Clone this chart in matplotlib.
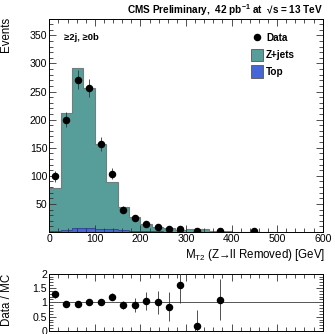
import numpy as np
import matplotlib
matplotlib.use("Agg")
import matplotlib.pyplot as plt
from matplotlib.ticker import MultipleLocator, NullFormatter
from matplotlib.lines import Line2D
from matplotlib.patches import Patch

plt.rcParams['font.family'] = ['Liberation Sans', 'DejaVu Sans']
plt.rcParams['mathtext.fontset'] = 'custom'
plt.rcParams['mathtext.rm'] = 'Liberation Sans'
plt.rcParams['mathtext.bf'] = 'Liberation Sans:bold'

# Binning of M_T2 (GeV)
bin_edges = [0, 25, 50, 75, 100, 125, 150, 175, 200, 225, 250, 275, 300, 350, 400, 500]
bin_centers = [12.5, 37.5, 62.5, 87.5, 112.5, 137.5, 162.5, 187.5, 212.5, 237.5,
               262.5, 287.5, 325, 375, 450]

# Observed events and their uncertainties
data_counts = [99, 200, 271, 257, 157, 104, 40, 25, 15, 9, 6, 6, 1, 2, 2]
data_errors = [10, 14, 16.5, 16, 12.5, 10, 6.5, 5, 4, 3, 2.5, 2.5, 1, 1.4, 1.4]

# Simulated backgrounds
zjets_counts = [77.5, 207, 285.5, 249.5, 151, 84.5, 41, 25, 13.5, 8.5, 5.8, 3.2, 4.6, 1.6, 0]
top_counts = [1.5, 4, 6.5, 7.5, 6, 4.5, 3, 2, 1.5, 1, 0.7, 0.5, 0.4, 0.2, 0]

# Data / MC ratio
ratio_centers = [12.5, 37.5, 62.5, 87.5, 112.5, 137.5, 162.5, 187.5, 212.5, 237.5,
                 262.5, 287.5, 325, 375]
ratio_values = [1.28, 0.94, 0.93, 1.0, 1.0, 1.19, 0.91, 0.91, 1.06, 1.0, 0.85, 1.62, 0.19, 1.09]
ratio_errors = [0.12, 0.06, 0.05, 0.06, 0.08, 0.12, 0.15, 0.23, 0.31, 0.41, 0.5, 0.64, 0.55, 0.71]

zjets_color = '#579d99'
top_color = '#4466d8'

W, H = 335, 334
fig = plt.figure(figsize=(W / 100, H / 100), dpi=100)

def box(l, t, r, b):
    return [l / W, 1 - b / H, (r - l) / W, (b - t) / H]

ax = fig.add_axes(box(49.3, 18.5, 322.7, 232))
rax = fig.add_axes(box(49.3, 273.7, 322.7, 331.0))

edges = np.array(bin_edges, dtype=float)
top = np.array(top_counts)
stack = top + np.array(zjets_counts)

ax.stairs(stack, edges, baseline=top, fill=True, color=zjets_color, lw=0)
ax.stairs(top, edges, baseline=0, fill=True, color=top_color, lw=0)
ax.stairs(stack, edges, baseline=None, color='#6f7f7e', lw=0.8)
ax.stairs(top, edges, baseline=None, color='#2a3f80', lw=0.5)

mask = np.array(data_counts) > 0
ax.errorbar(np.array(bin_centers)[mask], np.array(data_counts)[mask],
            yerr=np.array(data_errors)[mask], fmt='o', color='black',
            ms=4.4, elinewidth=0.6, ecolor='#333333', capsize=0, zorder=5)

ax.set_xlim(0, 600)
ax.set_ylim(0, 380)

for a in (ax, rax):
    a.xaxis.set_major_locator(MultipleLocator(100))
    a.xaxis.set_minor_locator(MultipleLocator(20))
    a.tick_params(which='both', direction='in', top=True, right=True,
                  labelsize=7.6, pad=1.5, width=0.6, color='#333333')
    a.tick_params(which='major', length=5)
    a.tick_params(which='minor', length=2.6)
    for s in a.spines.values():
        s.set_linewidth(0.7)

ax.yaxis.set_major_locator(MultipleLocator(50))
ax.yaxis.set_minor_locator(MultipleLocator(10))
ax.set_yticks([50, 100, 150, 200, 250, 300, 350])

# Ratio panel
rax.set_xlim(0, 600)
rax.set_ylim(0, 2)
rax.yaxis.set_major_locator(MultipleLocator(0.5))
rax.yaxis.set_minor_locator(MultipleLocator(0.1))
rax.set_yticks([0, 0.5, 1, 1.5, 2])
rax.set_yticklabels(['0', '0.5', '1', '1.5', '2'])
rax.xaxis.set_major_formatter(NullFormatter())
rax.axhline(1.0, color='#555555', lw=0.7)
rax.errorbar(ratio_centers, ratio_values, yerr=ratio_errors, fmt='o', color='black',
             ms=4.4, elinewidth=0.6, ecolor='#333333', capsize=0, zorder=5,
             clip_on=True)

# Texts
fig.text(323 / W, 1 - 10.5 / H,
         r'CMS Preliminary,  42 pb$^{\mathbf{-1}}$ at  √s = 13 TeV',
         ha='right', va='center', fontsize=7.2, fontweight='bold')
fig.text(6 / W, 1 - 17 / H, 'Events', rotation=90, ha='center', va='top', fontsize=8.3)
fig.text(7 / W, 1 - 300 / H, 'Data / MC', rotation=90, ha='center', va='center', fontsize=8.3)
fig.text(325 / W, 1 - 255 / H, r'M$_{\mathrm{T2}}$ (Z→ll Removed) [GeV]',
         ha='right', va='center', fontsize=8.3)
ax.text(0.052, 0.913, '≥2j, ≥0b', transform=ax.transAxes,
        ha='left', va='center', fontsize=6.8, fontweight='bold')

handles = [Line2D([], [], marker='o', ls='none', color='black', ms=4.4),
           Patch(facecolor=zjets_color, edgecolor='#555555', lw=0.6),
           Patch(facecolor=top_color, edgecolor='#555555', lw=0.6)]
leg = ax.legend(handles, ['Data', 'Z+jets', 'Top'], loc='upper left',
                bbox_to_anchor=((251 - 49.3) / 273.4, 1 - (32 - 18.5) / 213.5),
                frameon=False, prop={'weight': 'bold', 'size': 7.2},
                handlelength=1.2, handleheight=1.5, handletextpad=0.3,
                labelspacing=0.45, borderpad=0, borderaxespad=0)

fig.savefig('out.png', dpi=100)
